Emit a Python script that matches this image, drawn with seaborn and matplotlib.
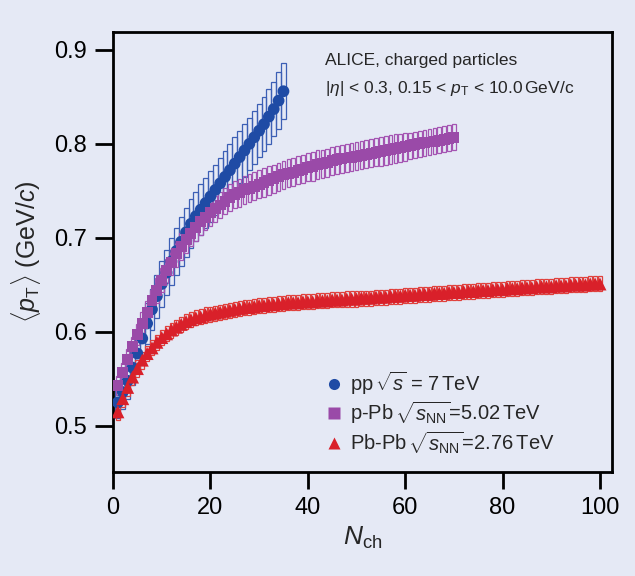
import matplotlib
matplotlib.use("Agg")
import matplotlib.pyplot as plt
from matplotlib.lines import Line2D
import seaborn as sns
import pandas as pd

# ---------------- data ----------------
pp_nch = list(range(1, 36))
pp_mpt = [0.525, 0.536, 0.548, 0.562, 0.577, 0.593, 0.609, 0.624, 0.638, 0.651,
          0.663, 0.675, 0.686, 0.696, 0.706, 0.715, 0.723, 0.730, 0.737, 0.744,
          0.751, 0.758, 0.765, 0.772, 0.779, 0.786, 0.793, 0.800, 0.807, 0.814,
          0.821, 0.829, 0.837, 0.846, 0.856]
pp_sys = [0.017, 0.018, 0.019, 0.019, 0.020, 0.021, 0.022, 0.022, 0.023, 0.024,
          0.024, 0.025, 0.025, 0.026, 0.026, 0.026, 0.026, 0.027, 0.027, 0.027,
          0.027, 0.027, 0.027, 0.028, 0.028, 0.028, 0.028, 0.028, 0.028, 0.028,
          0.029, 0.029, 0.029, 0.030, 0.030]

ppb_nch = list(range(1, 71))
ppb_mpt = [0.543, 0.557, 0.571, 0.584, 0.597, 0.609, 0.621, 0.633, 0.644, 0.655,
           0.665, 0.674, 0.683, 0.691, 0.698, 0.705, 0.711, 0.717, 0.722, 0.727,
           0.731, 0.735, 0.739, 0.743, 0.746, 0.748, 0.751, 0.753, 0.755, 0.757,
           0.759, 0.761, 0.763, 0.765, 0.767, 0.769, 0.770, 0.772, 0.773, 0.775,
           0.776, 0.778, 0.779, 0.780, 0.782, 0.783, 0.784, 0.785, 0.786, 0.787,
           0.788, 0.789, 0.790, 0.791, 0.792, 0.793, 0.794, 0.795, 0.796, 0.797,
           0.798, 0.799, 0.800, 0.801, 0.802, 0.803, 0.804, 0.805, 0.806, 0.807]
ppb_sys = [0.010, 0.010, 0.011, 0.011, 0.011, 0.012, 0.012, 0.012, 0.013, 0.013,
           0.013, 0.013, 0.014, 0.014, 0.014, 0.014, 0.014, 0.014, 0.014, 0.014,
           0.014, 0.014, 0.014, 0.014, 0.014, 0.015, 0.015, 0.015, 0.015, 0.015,
           0.015, 0.015, 0.015, 0.015, 0.015, 0.015, 0.015, 0.015, 0.015, 0.015,
           0.015, 0.015, 0.015, 0.015, 0.015, 0.015, 0.015, 0.015, 0.015, 0.015,
           0.015, 0.015, 0.015, 0.015, 0.015, 0.015, 0.015, 0.015, 0.015, 0.015,
           0.014, 0.014, 0.014, 0.014, 0.014, 0.014, 0.014, 0.014, 0.014, 0.014]

pbpb_nch = list(range(1, 101))
pbpb_mpt = [0.515, 0.529, 0.541, 0.552, 0.561, 0.570, 0.577, 0.583, 0.589, 0.594,
            0.598, 0.602, 0.605, 0.608, 0.611, 0.613, 0.615, 0.616, 0.618, 0.619,
            0.620, 0.621, 0.622, 0.623, 0.624, 0.625, 0.626, 0.626, 0.627, 0.628,
            0.628, 0.629, 0.629, 0.630, 0.630, 0.631, 0.631, 0.631, 0.632, 0.632,
            0.632, 0.633, 0.633, 0.633, 0.634, 0.634, 0.634, 0.635, 0.635, 0.635,
            0.636, 0.636, 0.636, 0.637, 0.637, 0.637, 0.638, 0.638, 0.638, 0.639,
            0.639, 0.639, 0.640, 0.640, 0.640, 0.641, 0.641, 0.641, 0.642, 0.642,
            0.642, 0.643, 0.643, 0.643, 0.644, 0.644, 0.644, 0.645, 0.645, 0.645,
            0.646, 0.646, 0.646, 0.647, 0.647, 0.647, 0.648, 0.648, 0.648, 0.648,
            0.649, 0.649, 0.649, 0.650, 0.650, 0.650, 0.650, 0.651, 0.651, 0.651]
pbpb_sys = [0.009, 0.009, 0.009, 0.009, 0.009, 0.009, 0.008, 0.008, 0.008, 0.008,
            0.008, 0.008, 0.008, 0.008, 0.008, 0.008, 0.008, 0.008, 0.008, 0.008,
            0.008, 0.008, 0.008, 0.008, 0.008, 0.008, 0.008, 0.008, 0.008, 0.008,
            0.008, 0.008, 0.008, 0.008, 0.008, 0.008, 0.008, 0.008, 0.008, 0.008,
            0.008, 0.008, 0.008, 0.008, 0.008, 0.008, 0.008, 0.008, 0.008, 0.008,
            0.008, 0.008, 0.008, 0.008, 0.008, 0.008, 0.008, 0.008, 0.008, 0.008,
            0.008, 0.008, 0.008, 0.008, 0.008, 0.008, 0.008, 0.008, 0.008, 0.008,
            0.008, 0.008, 0.008, 0.008, 0.008, 0.008, 0.008, 0.008, 0.008, 0.008,
            0.008, 0.008, 0.008, 0.008, 0.008, 0.008, 0.008, 0.008, 0.008, 0.008,
            0.008, 0.008, 0.008, 0.008, 0.008, 0.008, 0.008, 0.008, 0.008, 0.008]

systems = ["pp", "p-Pb", "Pb-Pb"]
legend_labels = [r"pp$\,\sqrt{s}$ = 7$\,$TeV",
                 r"p-Pb$\,\sqrt{s_{\rm NN}}$=5.02$\,$TeV",
                 r"Pb-Pb$\,\sqrt{s_{\rm NN}}$=2.76$\,$TeV"]
x_ticks = [0, 20, 40, 60, 80, 100]
y_ticks = [0.5, 0.6, 0.7, 0.8, 0.9]

# ---------------- style ----------------
BG = "#e5e9f5"
marker_colors = {"pp": "#1f4ba5", "p-Pb": "#9a4aa8", "Pb-Pb": "#d9202a"}
box_colors = {"pp": "#3c5fb5", "p-Pb": "#a454b2", "Pb-Pb": "#e0403c"}
markers = {"pp": "o", "p-Pb": "s", "Pb-Pb": "^"}
marker_s = {"pp": 72, "p-Pb": 62, "Pb-Pb": 88}
box_w = {"pp": 1.0, "p-Pb": 0.75, "Pb-Pb": 0.8}

sns.set_theme(style="ticks")
plt.rcParams["font.family"] = ["Liberation Sans", "DejaVu Sans"]
plt.rcParams["mathtext.fontset"] = "custom"
plt.rcParams["mathtext.rm"] = "Liberation Sans"
plt.rcParams["mathtext.it"] = "Liberation Sans:italic"
plt.rcParams["mathtext.bf"] = "Liberation Sans:bold"

df = pd.concat([
    pd.DataFrame({"system": "pp", "Nch": pp_nch, "mpt": pp_mpt, "sys": pp_sys}),
    pd.DataFrame({"system": "p-Pb", "Nch": ppb_nch, "mpt": ppb_mpt, "sys": ppb_sys}),
    pd.DataFrame({"system": "Pb-Pb", "Nch": pbpb_nch, "mpt": pbpb_mpt, "sys": pbpb_sys}),
], ignore_index=True)

fig = plt.figure(figsize=(6.35, 5.76), dpi=100, facecolor=BG)
ax = fig.add_axes([0.178, 0.1806, 0.786, 0.7638])
ax.set_facecolor(BG)

for sysname in systems:
    sub = df[df["system"] == sysname]
    ax.bar(sub["Nch"], 2 * sub["sys"], bottom=sub["mpt"] - sub["sys"],
           width=box_w[sysname], fill=False, edgecolor=box_colors[sysname],
           linewidth=0.9, zorder=2)
    sns.scatterplot(data=sub, x="Nch", y="mpt", ax=ax, marker=markers[sysname],
                    color=marker_colors[sysname], s=marker_s[sysname],
                    edgecolor="none", linewidth=0, legend=False, zorder=3)

ax.set_xlim(0, 102.5)
ax.set_ylim(0.451, 0.919)
ax.set_xticks(x_ticks)
ax.set_xticklabels([str(t) for t in x_ticks])
ax.set_yticks(y_ticks)
ax.set_yticklabels([f"{t:.1f}" for t in y_ticks])
ax.tick_params(axis="both", which="major", direction="out", length=12, width=2,
               colors="black", labelsize=17, pad=6)
ax.tick_params(axis="y", length=13)
for sp in ax.spines.values():
    sp.set_visible(True)
    sp.set_color("black")
    sp.set_linewidth(2)

ax.set_xlabel(r"$N_{\rm ch}$", fontsize=19, labelpad=4)
ax.set_ylabel(r"$\langle p_{\rm T}\rangle$ (GeV/$c$)", fontsize=18, labelpad=8)

ax.text(0.425, 0.952,
        "ALICE, charged particles\n" + r"$|\eta|$ < 0.3, 0.15 < $p_{\rm T}$ < 10.0$\,$GeV/c",
        transform=ax.transAxes, ha="left", va="top", fontsize=12.5,
        linespacing=1.75)

handles = [Line2D([0], [0], marker=markers[s], linestyle="none",
                  markerfacecolor=marker_colors[s], markeredgecolor="none",
                  markersize=8) for s in systems]
leg = ax.legend(handles, legend_labels, loc="upper left",
                bbox_to_anchor=(0.405, 0.255), frameon=False,
                handletextpad=0.35, labelspacing=0.12, borderpad=0,
                handlelength=0.9, prop={"size": 14.5})

fig.savefig("out.png", dpi=100, facecolor=BG)
